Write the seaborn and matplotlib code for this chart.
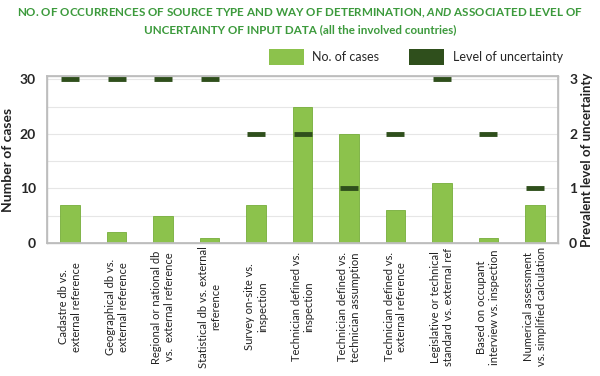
import matplotlib
matplotlib.use("Agg")
import matplotlib.pyplot as plt
import seaborn as sns
import pandas as pd
from matplotlib.patches import Patch

categories = [
    "Cadastre db vs.\nexternal reference",
    "Geographical db vs.\nexternal reference",
    "Regional or national db\nvs.  external reference",
    "Statistical db vs. external\nreference",
    "Survey on-site vs.\ninspection",
    "Technician defined vs.\ninspection",
    "Technician defined vs.\ntechnician assumption",
    "Technician defined vs.\nexternal reference",
    "Legislative or technical\nstandard vs. external ref",
    "Based on occupant\ninterview vs. inspection",
    "Numerical assessment\nvs. simplified calculation",
]
n_cases = [7, 2, 5, 1, 7, 25, 20, 6, 11, 1, 7]
uncertainty = [3, 3, 3, 3, 2, 2, 1, 2, 3, 2, 1]

df = pd.DataFrame({"cat": categories, "cases": n_cases, "unc": uncertainty})

sns.set_theme(style="white")
plt.rcParams["font.family"] = ["Lato", "DejaVu Sans"]
plt.rcParams["mathtext.fontset"] = "custom"
plt.rcParams["mathtext.rm"] = "Lato:bold"
plt.rcParams["mathtext.bf"] = "Lato:bold"
plt.rcParams["mathtext.it"] = "Lato:italic:bold"

BAR = "#8cc24c"
BAR_EDGE = "#76ad3a"
DARK = "#2f4f1c"
TITLE = "#3c9a3c"

fig = plt.figure(figsize=(6.0, 3.76), dpi=100)
ax = fig.add_axes([47/600, 1 - 243/376, (558-47)/600, (243-76)/376])

sns.barplot(data=df, x="cat", y="cases", order=categories, color=BAR,
            width=0.42, saturation=1, edgecolor=BAR_EDGE, linewidth=0.6, ax=ax, zorder=3)
ax.set_ylim(0, 30.6)
ax.set_yticks([0, 10, 20, 30])
ax.set_yticks([5, 15, 25], minor=True)
ax.grid(axis="y", which="both", color="#e6e6e6", linewidth=0.8, zorder=0)
ax.set_axisbelow(True)
ax.set_xlim(-0.5, len(categories) - 0.5)
ax.set_xlabel("")
ax.set_ylabel("Number of cases", fontsize=10, fontweight="bold", color="#222222", labelpad=4)
for s in ax.spines.values():
    s.set_color("#bdbdbd")
    s.set_linewidth(1.0)
ax.tick_params(axis="y", which="both", length=0, labelsize=10, pad=8)
for t in ax.get_yticklabels():
    t.set_fontweight("bold")
ax.tick_params(axis="x", length=0, pad=46, labelsize=8)
ax.set_xticks(range(len(categories)))
ax.set_xticklabels(categories, rotation=90, ha="center", va="center",
                   multialignment="center", color="#222222")

ax2 = ax.twinx()
sns.scatterplot(x=list(range(len(categories))), y=uncertainty, marker="_", s=150,
                linewidth=3.5, color=DARK, ax=ax2, zorder=5, legend=False)
ax2.set_ylim(0, 3.06)
ax2.set_yticks([0, 1, 2, 3])
ax2.tick_params(axis="y", length=0, labelsize=10, pad=8)
for t in ax2.get_yticklabels():
    t.set_fontweight("bold")
ax2.set_ylabel("Prevalent level of uncertainty", fontsize=9.5, fontweight="bold",
               color="#222222", labelpad=3)
for s in ax2.spines.values():
    s.set_color("#bdbdbd")

# legend
handles = [Patch(facecolor=BAR, edgecolor="none", label="No. of cases"),
           Patch(facecolor=DARK, edgecolor="none", label="Level of uncertainty")]
fig.legend(handles=handles, loc="center", bbox_to_anchor=(416/600, 1 - 57/376),
           ncol=2, frameon=False, fontsize=9, handlelength=2.8, handleheight=1.7,
           columnspacing=2.4, handletextpad=0.7)

# title
title1 = r"NO. OF OCCURRENCES OF SOURCE TYPE AND WAY OF DETERMINATION, $\mathit{AND}$ ASSOCIATED LEVEL OF"
title2 = "UNCERTAINTY OF INPUT DATA (all the involved countries)"
fig.canvas.draw()
r = fig.canvas.get_renderer()
fs = 10.0
t1 = fig.text(0.5, 1 - 13/376, title1, fontsize=fs, fontweight="bold",
              color=TITLE, ha="center", va="center")
w = t1.get_window_extent(renderer=r).width
fs = fs * 568 / w
t1.set_fontsize(fs)
fig.text(0.5, 1 - 30/376, title2, fontsize=fs, fontweight="bold",
         color=TITLE, ha="center", va="center")

fig.savefig("out.png", dpi=100)
